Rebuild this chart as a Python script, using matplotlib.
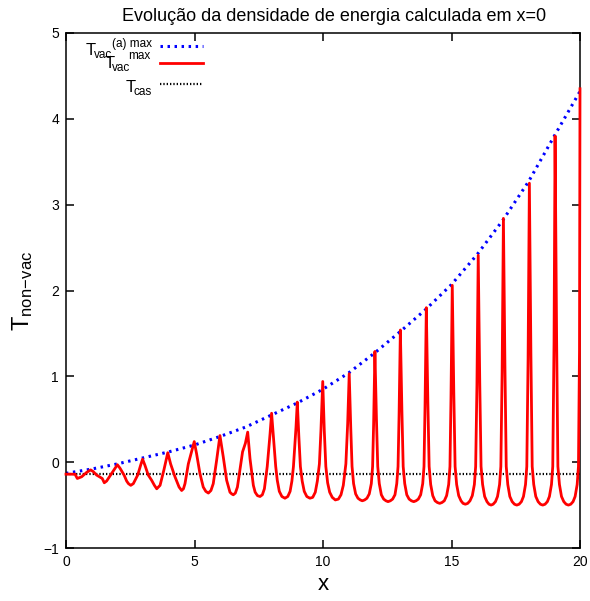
import matplotlib
matplotlib.use("Agg")
import matplotlib.pyplot as plt

plt.rcParams["font.family"] = ["Liberation Sans", "DejaVu Sans"]
plt.rcParams["mathtext.fontset"] = "custom"
plt.rcParams["mathtext.rm"] = "Liberation Sans"
plt.rcParams["mathtext.it"] = "Liberation Sans"

# red curve: energy density (one row per period)
red_x = [0.00, 0.35, 0.44, 0.61, 0.80, 0.96,
         1.06, 1.19, 1.35, 1.41, 1.49, 1.58, 1.78, 2.00,
         2.10, 2.26, 2.36, 2.43, 2.52, 2.62, 2.79, 2.92, 2.98,
         3.07, 3.20, 3.33, 3.44, 3.53, 3.66, 3.81, 3.96,
         4.07, 4.24, 4.40, 4.50, 4.57, 4.63, 4.76, 4.99,
         5.08, 5.21, 5.34, 5.44, 5.54, 5.64, 5.73, 5.86, 5.99,
         6.12, 6.25, 6.38, 6.45, 6.51, 6.59, 6.67, 6.80, 6.87, 6.98, 7.07,
         7.16, 7.29, 7.36, 7.45, 7.55, 7.64, 7.72, 7.83, 7.94, 8.00,
         8.09, 8.16, 8.22, 8.30, 8.40, 8.52, 8.63, 8.72, 8.79, 8.85, 8.95, 9.00,
         9.06, 9.12, 9.19, 9.27, 9.37, 9.49, 9.60, 9.70, 9.78, 9.86, 9.92, 9.99,
         10.05, 10.11, 10.18, 10.26, 10.36, 10.48, 10.60, 10.70, 10.79, 10.89, 10.96, 11.02,
         11.08, 11.13, 11.19, 11.27, 11.36, 11.45, 11.53, 11.62, 11.71, 11.80, 11.88, 11.93, 11.97, 12.02,
         12.08, 12.13, 12.19, 12.27, 12.36, 12.45, 12.53, 12.62, 12.71, 12.80, 12.87, 12.92, 12.96, 13.01,
         13.07, 13.12, 13.18, 13.26, 13.35, 13.44, 13.53, 13.62, 13.71, 13.80, 13.88, 13.93, 13.97, 14.02,
         14.08, 14.13, 14.19, 14.27, 14.36, 14.45, 14.54, 14.63, 14.72, 14.81, 14.89, 14.94, 14.98, 15.03,
         15.09, 15.14, 15.20, 15.28, 15.37, 15.45, 15.54, 15.63, 15.72, 15.81, 15.89, 15.94, 15.99, 16.04,
         16.10, 16.15, 16.21, 16.29, 16.38, 16.46, 16.54, 16.62, 16.71, 16.79, 16.87, 16.92, 16.97, 17.02,
         17.08, 17.13, 17.19, 17.27, 17.36, 17.45, 17.54, 17.63, 17.72, 17.80, 17.88, 17.93, 17.98, 18.03,
         18.09, 18.14, 18.20, 18.28, 18.37, 18.46, 18.55, 18.64, 18.73, 18.81, 18.89, 18.94, 18.99, 19.03,
         19.09, 19.14, 19.20, 19.28, 19.37, 19.46, 19.55, 19.64, 19.73, 19.81, 19.89, 19.94, 19.98, 20.00]
red_y = [-0.14, -0.14, -0.19, -0.17, -0.12, -0.09,
         -0.11, -0.15, -0.18, -0.19, -0.24, -0.22, -0.13, -0.03,
         -0.07, -0.15, -0.22, -0.25, -0.27, -0.25, -0.15, -0.02, 0.035,
         -0.035, -0.15, -0.21, -0.27, -0.31, -0.27, -0.09, 0.11,
         -0.02, -0.17, -0.29, -0.33, -0.31, -0.25, -0.02, 0.24,
         0.10, -0.13, -0.29, -0.34, -0.36, -0.33, -0.25, 0.02, 0.31,
         0.06, -0.21, -0.35, -0.37, -0.38, -0.36, -0.29, -0.02, 0.12, 0.22, 0.35,
         0.04, -0.27, -0.35, -0.39, -0.40, -0.38, -0.31, -0.05, 0.33, 0.57,
         0.22, -0.05, -0.21, -0.34, -0.40, -0.42, -0.40, -0.34, -0.22, -0.05, 0.41, 0.70,
         0.30, -0.05, -0.22, -0.34, -0.40, -0.42, -0.41, -0.35, -0.22, -0.02, 0.37, 0.94,
         0.37, -0.05, -0.24, -0.35, -0.41, -0.44, -0.43, -0.38, -0.27, -0.02, 0.45, 1.03,
         0.40, -0.05, -0.25, -0.37, -0.42, -0.44, -0.45, -0.44, -0.42, -0.37, -0.25, -0.05, 0.45, 1.29,
         0.50, -0.05, -0.25, -0.38, -0.43, -0.45, -0.46, -0.45, -0.43, -0.38, -0.25, -0.05, 0.55, 1.54,
         0.60, -0.05, -0.25, -0.38, -0.43, -0.45, -0.46, -0.45, -0.43, -0.38, -0.25, -0.05, 0.65, 1.80,
         0.70, -0.05, -0.26, -0.39, -0.45, -0.47, -0.48, -0.47, -0.45, -0.39, -0.26, -0.05, 0.75, 2.06,
         0.80, -0.05, -0.26, -0.39, -0.45, -0.48, -0.49, -0.48, -0.45, -0.39, -0.26, -0.05, 0.90, 2.41,
         0.92, -0.05, -0.26, -0.40, -0.46, -0.49, -0.50, -0.49, -0.46, -0.40, -0.26, -0.05, 1.05, 2.84,
         1.10, -0.05, -0.26, -0.40, -0.46, -0.49, -0.50, -0.49, -0.46, -0.40, -0.26, -0.05, 1.20, 3.25,
         1.25, -0.05, -0.26, -0.40, -0.46, -0.49, -0.50, -0.49, -0.46, -0.40, -0.26, -0.05, 1.40, 3.80,
         1.45, -0.05, -0.26, -0.40, -0.46, -0.49, -0.50, -0.49, -0.46, -0.40, -0.26, -0.05, 1.30, 4.35]

# blue dotted envelope (max of the vacuum density)
env_x = list(range(0, 21))
env_y = [-0.13, -0.08, -0.02, 0.05, 0.12, 0.20, 0.30, 0.41, 0.55, 0.69, 0.85,
         1.04, 1.27, 1.52, 1.78, 2.07, 2.42, 2.82, 3.27, 3.80, 4.32]

# Casimir level
t_cas = -0.14

W, H = 590, 601
BLUE_LS = (0, (0.8, 1.5))
BLACK_LS = (0, (0.6, 0.9))

fig = plt.figure(figsize=(W / 100, H / 100), dpi=100)
ax = fig.add_axes([66 / W, 1 - 548 / H, (580 - 66) / W, (548 - 33) / H])

ax.plot(env_x, env_y, color="#0000ff", lw=2.2, ls=BLUE_LS, zorder=2)
ax.plot(red_x, red_y, color="#ff0000", lw=2.0, zorder=3, clip_on=False)
ax.axhline(t_cas, color="black", lw=1.6, ls=BLACK_LS, zorder=1)

ax.set_xlim(0, 20)
ax.set_ylim(-1, 5)
ax.set_xticks([0, 5, 10, 15, 20])
ax.set_yticks([-1, 0, 1, 2, 3, 4, 5])
ax.set_yticklabels(["\u22121", "0", "1", "2", "3", "4", "5"])
ax.tick_params(direction="in", length=6, width=1.1, top=True, right=True,
               labelsize=10, pad=5)
for s in ax.spines.values():
    s.set_linewidth(1.1)

fig.text(334 / W, 1 - 21 / H, "Evolução da densidade de energia calculada em x=0",
         fontsize=13, ha="center", va="baseline")
ax.set_xlabel("x", fontsize=16, labelpad=4)
ax.set_ylabel(r"$\mathrm{T_{non\!-\!vac}}$", fontsize=17, labelpad=6)

# gnuplot-style key, labels overlapping as in the original
def ftxt(x, y, s, size):
    fig.text(x / W, 1 - y / H, s, fontsize=size, ha="left", va="baseline")

ftxt(86, 55, "T", 12)
ftxt(94, 58, "vac", 8.5)
ftxt(112, 47, "(a) max", 8.5)
ftxt(105, 68, "T", 12)
ftxt(112, 71, "vac", 8.5)
ftxt(128, 59, "max", 8.5)
ftxt(126, 92, "T", 12)
ftxt(134, 95, "cas", 8.5)

kx = [160 / W, 203 / W]
fig.add_artist(plt.Line2D(kx, [1 - 46 / H] * 2, color="#0000ff", lw=2.2, ls=BLUE_LS))
fig.add_artist(plt.Line2D(kx, [1 - 63 / H] * 2, color="#ff0000", lw=2.0))
fig.add_artist(plt.Line2D(kx, [1 - 84 / H] * 2, color="black", lw=1.6, ls=BLACK_LS))

fig.savefig("out.png", dpi=100)
